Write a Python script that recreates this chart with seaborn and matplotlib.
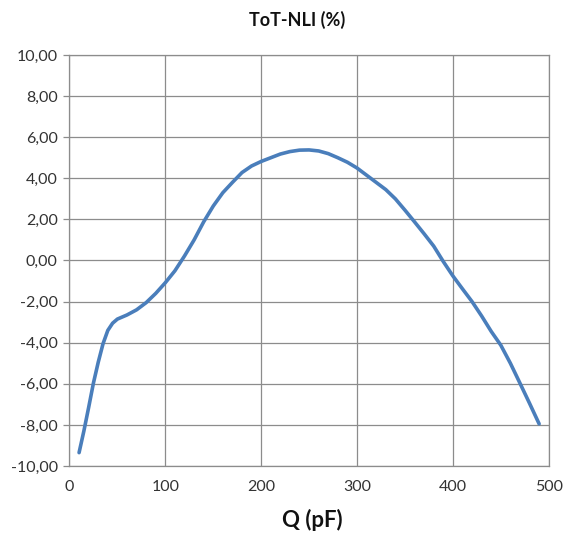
import pandas as pd
import matplotlib
matplotlib.use("Agg")
import matplotlib.pyplot as plt
import seaborn as sns
from matplotlib.ticker import FuncFormatter, MultipleLocator

# values
q_pf = [10, 15, 20, 25, 30, 35, 40, 45, 50, 60, 70, 80, 90, 100, 110, 120,
        130, 140, 150, 160, 170, 180, 190, 200, 210, 220, 230, 240, 250, 260,
        270, 280, 290, 300, 310, 320, 330, 340, 350, 360, 370, 380, 390, 400,
        410, 420, 430, 440, 450, 460, 470, 480, 490]
nli_pct = [-9.35, -8.3, -7.15, -5.96, -4.95, -4.05, -3.4, -3.05, -2.85, -2.65,
           -2.4, -2.05, -1.6, -1.08, -0.5, 0.22, 1.0, 1.88, 2.65, 3.3, 3.8, 4.28,
           4.6, 4.82, 5.0, 5.18, 5.3, 5.37, 5.38, 5.33, 5.2, 5.0, 4.78, 4.5,
           4.15, 3.8, 3.45, 3.0, 2.45, 1.88, 1.3, 0.7, -0.05, -0.75, -1.38,
           -2.0, -2.7, -3.45, -4.12, -5.0, -5.97, -6.95, -7.95]

title = "ToT-NLI (%)"
xlabel = "Q (pF)"

df = pd.DataFrame({"Q": q_pf, "NLI": nli_pct})

sns.set_theme(style="white")
plt.rcParams['font.family'] = ['Lato', 'DejaVu Sans']

grid_col = "#8c8c8c"
fig = plt.figure(figsize=(5.64, 5.37), dpi=100)
ax = fig.add_axes([0.1232, 0.1322, 0.8497, 0.7654])

sns.lineplot(data=df, x="Q", y="NLI", sort=False, color="#4a7ebb",
             linewidth=2.6, ax=ax)

ax.set_xlim(0, 500)
ax.set_ylim(-10, 10)
ax.xaxis.set_major_locator(MultipleLocator(100))
ax.yaxis.set_major_locator(MultipleLocator(2))
ax.yaxis.set_major_formatter(FuncFormatter(lambda v, p: f"{v:.2f}".replace(".", ",")))
ax.grid(True, color=grid_col, linewidth=0.9)
for s in ax.spines.values():
    s.set_color(grid_col)
    s.set_linewidth(0.9)

ax.tick_params(axis="y", length=4.5, width=0.9, color=grid_col, pad=4,
               labelsize=11.5, labelcolor="#333333", left=True)
ax.tick_params(axis="x", length=0, pad=10, labelsize=11.5, labelcolor="#333333")
ax.set_xlabel("")
ax.set_ylabel("")

fig.text(0.527, 0.962, title, ha="center", va="center", fontsize=13,
         fontweight="bold", color="#111111")
fig.text(0.553, 0.032, xlabel, ha="center", va="center", fontsize=16,
         fontweight="bold", color="#111111")

plt.savefig("out.png", dpi=100)
